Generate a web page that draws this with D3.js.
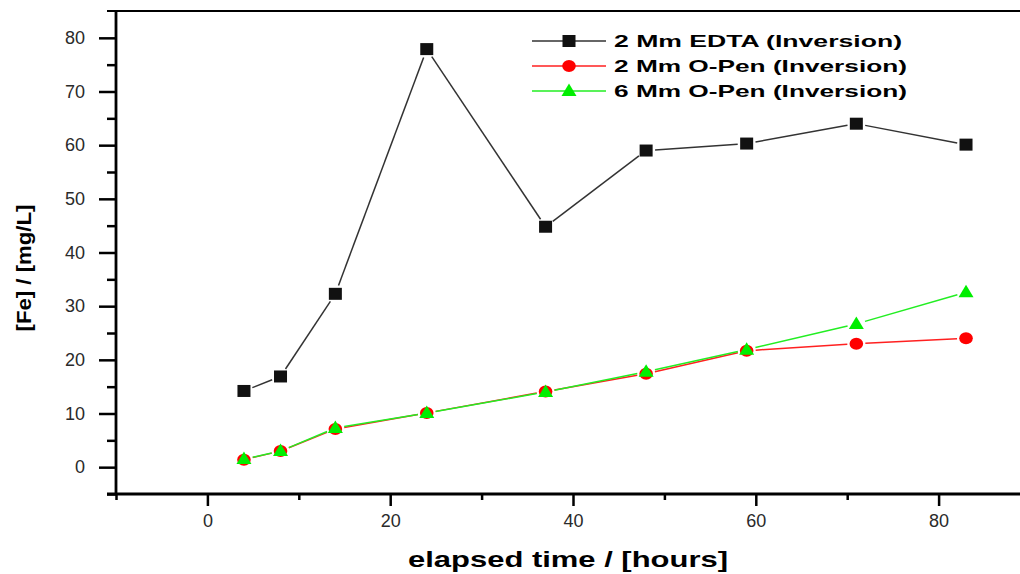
<!DOCTYPE html>
<html>
<head>
<meta charset="utf-8">
<script src="https://cdn.jsdelivr.net/npm/d3@7"></script>
<style>
  body { margin: 0; background: #fff; }
  svg { display: block; font-family: "Liberation Sans", Arial, sans-serif; }
</style>
</head>
<body>
<svg></svg>
<script>
// hours of each sample
const hours = [4, 8, 14, 24, 37, 48, 59, 71, 83]

// [Fe] in mg/L
const edta2 = [14.2, 16.9, 32.3, 77.9, 44.8, 59.0, 60.3, 64.0, 60.1]
const open2 = [1.4, 3.0, 7.1, 10.1, 14.1, 17.4, 21.7, 23.0, 24.0]
const open6 = [1.5, 3.0, 7.3, 10.1, 14.0, 17.8, 21.9, 26.7, 32.6]

const seriesNames = ["2 Mm EDTA (Inversion)", "2 Mm O-Pen (Inversion)", "6 Mm O-Pen (Inversion)"]
const xTicks = [0, 20, 40, 60, 80]
const yTicks = [0, 10, 20, 30, 40, 50, 60, 70, 80]

let width = 1020
let height = 574

let svg = d3.select("svg")
    .attr("width", width)
    .attr("height", height)

const xScale = d3.scaleLinear().domain([-10, 90]).range([116, 1030])
const yScale = d3.scaleLinear().domain([-5, 85]).range([494, 11])

const series = [
    { name: seriesNames[0], values: edta2, color: "#111", line: "#333", shape: "square" },
    { name: seriesNames[1], values: open2, color: "#ff0000", line: "#ff2020", shape: "circle" },
    { name: seriesNames[2], values: open6, color: "#00ee00", line: "#22ee22", shape: "triangle" }
]

// frame lines (top + axes)
svg.append("line")
    .attr("x1", 107).attr("x2", width)
    .attr("y1", yScale.range()[1]).attr("y2", yScale.range()[1])
    .attr("stroke", "#000").attr("stroke-width", 2.2)

// y axis
const yAxis = d3.axisLeft(yScale).tickValues(yTicks).tickSize(17).tickPadding(14)
const gy = svg.append("g")
    .attr("transform", "translate(" + xScale.range()[0] + ",0)")
    .call(yAxis)
gy.select(".domain").remove()
gy.selectAll(".tick line").attr("stroke", "#000").attr("stroke-width", 2.5)
gy.selectAll(".tick text").attr("font-size", 18).attr("fill", "#2a2a2a")
    .attr("font-family", "'Liberation Sans', Arial, sans-serif")

const gyMinor = svg.append("g")
    .attr("transform", "translate(" + xScale.range()[0] + ",0)")
    .call(d3.axisLeft(yScale).tickValues(d3.range(-5, 85, 10)).tickSize(9).tickFormat(""))
gyMinor.select(".domain").remove()
gyMinor.selectAll(".tick line").attr("stroke", "#000").attr("stroke-width", 2.5)

svg.append("line")
    .attr("x1", xScale.range()[0]).attr("x2", xScale.range()[0])
    .attr("y1", yScale.range()[1]).attr("y2", yScale.range()[0] + 1)
    .attr("stroke", "#000").attr("stroke-width", 2.8)

// x axis
const xAxis = d3.axisBottom(xScale).tickValues(xTicks).tickSize(12).tickPadding(8)
const gx = svg.append("g")
    .attr("transform", "translate(0," + yScale.range()[0] + ")")
    .call(xAxis)
gx.select(".domain").remove()
gx.selectAll(".tick line").attr("stroke", "#000").attr("stroke-width", 2.5)
gx.selectAll(".tick text").attr("font-size", 18).attr("fill", "#2a2a2a")
    .attr("font-family", "'Liberation Sans', Arial, sans-serif")

const gxMinor = svg.append("g")
    .attr("transform", "translate(0," + yScale.range()[0] + ")")
    .call(d3.axisBottom(xScale).tickValues(d3.range(-10, 91, 20)).tickSize(6).tickFormat(""))
gxMinor.select(".domain").remove()
gxMinor.selectAll(".tick line").attr("stroke", "#000").attr("stroke-width", 2.5)

svg.append("line")
    .attr("x1", 107).attr("x2", width)
    .attr("y1", yScale.range()[0]).attr("y2", yScale.range()[0])
    .attr("stroke", "#000").attr("stroke-width", 2.8)

// axis titles
svg.append("text")
    .attr("x", 568).attr("y", 567)
    .attr("text-anchor", "middle")
    .attr("font-size", 22).attr("font-weight", "bold")
    .attr("textLength", 320).attr("lengthAdjust", "spacingAndGlyphs")
    .text("elapsed time / [hours]")

svg.append("text")
    .attr("transform", "translate(31,268) rotate(-90)")
    .attr("text-anchor", "middle")
    .attr("font-size", 21).attr("font-weight", "bold")
    .attr("textLength", 127).attr("lengthAdjust", "spacingAndGlyphs")
    .text("[Fe] / [mg/L]")

// markers
const drawMarker = (g, shape, color, x, y) => {
    if (shape === "square") {
        g.append("rect").attr("x", x - 6.5).attr("y", y - 6).attr("width", 13).attr("height", 12)
            .attr("fill", color)
    } else if (shape === "circle") {
        g.append("ellipse").attr("cx", x).attr("cy", y).attr("rx", 6.8).attr("ry", 6)
            .attr("fill", color)
    } else {
        g.append("path")
            .attr("d", "M" + x + "," + (y - 7.5) + " L" + (x + 7.5) + "," + (y + 5) + " L" + (x - 7.5) + "," + (y + 5) + " Z")
            .attr("fill", color)
    }
}

// lines with a small gap at each marker, as in the original
const gap = 9
series.forEach(s => {
    const g = svg.append("g")
    const pts = hours.map((h, i) => [xScale(h), yScale(s.values[i])])
    for (let i = 0; i < pts.length - 1; i++) {
        const [x1, y1] = pts[i]
        const [x2, y2] = pts[i + 1]
        const len = Math.hypot(x2 - x1, y2 - y1)
        if (len <= 2 * gap) continue
        const ux = (x2 - x1) / len, uy = (y2 - y1) / len
        g.append("line")
            .attr("x1", x1 + ux * gap).attr("y1", y1 + uy * gap)
            .attr("x2", x2 - ux * gap).attr("y2", y2 - uy * gap)
            .attr("stroke", s.line).attr("stroke-width", 1.5)
    }
})
series.forEach(s => {
    const g = svg.append("g")
    hours.forEach((h, i) => drawMarker(g, s.shape, s.color, xScale(h), yScale(s.values[i])))
})

// legend
const legend = svg.append("g")
const rowY = [41, 66, 91]
series.forEach((s, i) => {
    legend.append("line")
        .attr("x1", 532).attr("x2", 606)
        .attr("y1", rowY[i]).attr("y2", rowY[i])
        .attr("stroke", s.line).attr("stroke-width", 1.5)
    drawMarker(legend, s.shape, s.color, 569, rowY[i])
    legend.append("text")
        .attr("x", 614).attr("y", rowY[i] + 6)
        .attr("font-size", 17).attr("font-weight", "bold")
        .attr("textLength", i === 0 ? 288 : 293).attr("lengthAdjust", "spacingAndGlyphs")
        .text(s.name)
})
</script>
</body>
</html>
